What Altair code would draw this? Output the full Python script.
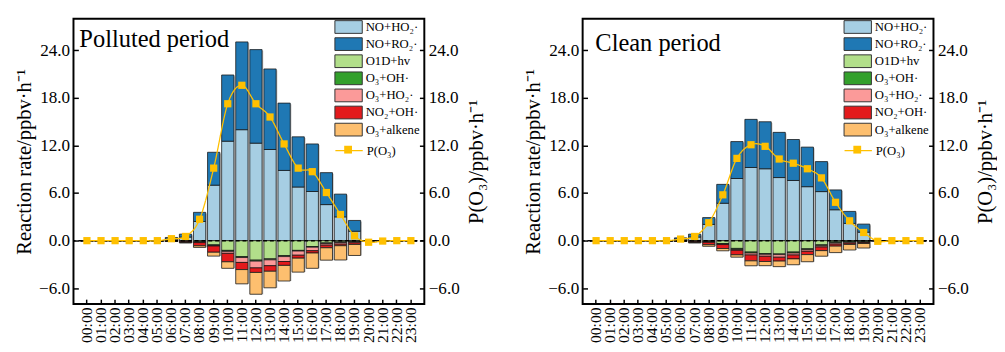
import altair as alt
import pandas as pd

FONT = "Liberation Serif"

hours = ["00:00", "01:00", "02:00", "03:00", "04:00", "05:00", "06:00", "07:00",
         "08:00", "09:00", "10:00", "11:00", "12:00", "13:00", "14:00", "15:00",
         "16:00", "17:00", "18:00", "19:00", "20:00", "21:00", "22:00", "23:00"]

species = ["NO+HO₂·", "NO+RO₂·", "O1D+hv", "O₃+OH·", "O₃+HO₂·", "NO₂+OH·", "O₃+alkene"]
line_name = "P(O₃)"
marker_name = "P(O₃) marker"
colors = ["#a6cee3", "#1f78b4", "#b2df8a", "#33a02c", "#fb9a99", "#e31a1c", "#fdbf6f"]
line_color = "#FFC000"

# ---------------- Polluted period ----------------
pol_no_ho2 = [0, 0, 0, 0, 0, 0, 0.2, 0.45, 2.42, 7.0, 12.55, 14.0, 12.3, 11.5, 8.86, 6.77, 6.2, 4.55, 3.0, 1.19, 0, 0, 0, 0]
pol_no_ro2 = [0, 0, 0, 0, 0, 0, 0.2, 0.37, 1.15, 4.15, 8.35, 11.07, 11.8, 10.16, 8.49, 6.33, 6.0, 4.03, 2.87, 1.36, 0, 0, 0, 0]
pol_o1d = [0, 0, 0, 0, 0, 0, -0.02, -0.05, -0.15, -0.53, -1.23, -2.01, -2.46, -2.3, -1.89, -1.23, -0.74, -0.29, -0.16, -0.08, 0, 0, 0, 0]
pol_o3_oh = [0, 0, 0, 0, 0, 0, -0.01, -0.05, -0.05, -0.1, -0.12, -0.12, -0.12, -0.12, -0.12, -0.08, -0.08, -0.08, -0.08, -0.08, 0, 0, 0, 0]
pol_o3_ho2 = [0, 0, 0, 0, 0, 0, -0.01, -0.02, -0.05, -0.05, -0.25, -0.62, -0.86, -0.74, -0.62, -0.53, -0.45, -0.2, -0.2, -0.12, 0, 0, 0, 0]
pol_no2_oh = [0, 0, 0, 0, 0, 0, -0.05, -0.12, -0.4, -0.78, -1.07, -0.9, -0.57, -0.7, -0.49, -0.37, -0.29, -0.33, -0.2, -0.2, 0, 0, 0, 0]
pol_alkene = [0, 0, 0, 0, 0, 0, -0.02, -0.05, -0.2, -0.49, -0.82, -1.8, -2.75, -2.09, -1.97, -1.76, -1.93, -1.56, -1.8, -1.39, 0, 0, 0, 0]
pol_po3 = [0, 0, 0, 0, 0, 0, 0.25, 0.53, 2.7, 9.15, 17.27, 19.6, 17.27, 15.6, 12.2, 9.15, 8.7, 6.07, 3.3, 0.6, -0.2, -0.05, 0, 0]

# ---------------- Clean period ----------------
cln_no_ho2 = [0, 0, 0, 0, 0, 0, 0.2, 0.45, 2.05, 4.72, 7.84, 9.23, 9.07, 7.96, 7.59, 6.81, 6.19, 3.9, 2.18, 1.07, 0, 0, 0, 0]
cln_no_ro2 = [0, 0, 0, 0, 0, 0, 0.15, 0.37, 0.86, 2.38, 4.66, 6.07, 5.93, 5.7, 5.17, 4.99, 3.78, 2.5, 1.51, 1.02, 0, 0, 0, 0]
cln_o1d = [0, 0, 0, 0, 0, 0, -0.02, -0.05, -0.08, -0.37, -0.98, -1.44, -1.64, -1.68, -1.44, -1.03, -0.53, -0.16, -0.08, -0.04, 0, 0, 0, 0]
cln_o3_oh = [0, 0, 0, 0, 0, 0, -0.01, -0.05, -0.08, -0.08, -0.16, -0.12, -0.08, -0.08, -0.12, -0.12, -0.12, -0.12, -0.12, -0.12, 0, 0, 0, 0]
cln_o3_ho2 = [0, 0, 0, 0, 0, 0, -0.01, -0.02, -0.05, -0.04, -0.08, -0.25, -0.25, -0.33, -0.25, -0.2, -0.16, -0.16, -0.12, -0.08, 0, 0, 0, 0]
cln_no2_oh = [0, 0, 0, 0, 0, 0, -0.04, -0.12, -0.3, -0.5, -0.57, -0.74, -0.66, -0.49, -0.49, -0.41, -0.45, -0.25, -0.16, -0.12, 0, 0, 0, 0]
cln_alkene = [0, 0, 0, 0, 0, 0, -0.01, -0.05, -0.2, -0.29, -0.29, -0.62, -0.53, -0.7, -0.74, -0.9, -0.7, -0.82, -0.7, -0.57, 0, 0, 0, 0]
cln_po3 = [0, 0, 0, 0, 0, 0, 0.2, 0.53, 2.26, 5.78, 10.38, 12.1, 11.9, 10.3, 9.77, 9.07, 7.92, 4.84, 2.5, 1.03, -0.08, 0, 0, 0]

panel_titles = ["Polluted period", "Clean period"]
y_ticks = [-6, 0, 6, 12, 18, 24]
y_domain = [-8, 28]

# legend / marker symbol paths (unit = half of sqrt(symbolSize))
RECT = "M-2,-0.93L2,-0.93L2,0.93L-2,0.93Z"
HLINE = "M-2,0L2,0"
SQ = "M-0.57,-0.57L0.57,-0.57L0.57,0.57L-0.57,0.57Z"

W, H = 359, 292
LAB = 17.5
TIT = 21
LEG_X = 274


def panel(series_lists, po3, title, tx, ty):
    rows = []
    for k, (name, vals) in enumerate(zip(species, series_lists)):
        for h, v in zip(hours, vals):
            rows.append({"hour": h, "series": name, "value": v, "idx": k})
    bars_df = pd.DataFrame(rows)
    pos = [sum(v for v in col if v > 0) for col in zip(*series_lists)]
    neg = [sum(v for v in col if v < 0) for col in zip(*series_lists)]
    shadow_df = pd.DataFrame({"hour": hours, "pos": pos, "neg": neg})
    shadow_df = shadow_df[(shadow_df["pos"] != 0) | (shadow_df["neg"] != 0)]
    line_df = pd.DataFrame({"hour": hours, "value": po3,
                            "lname": [line_name] * len(hours),
                            "pname": [marker_name] * len(hours)})

    xscale = alt.Scale(domain=hours, paddingInner=0.13, paddingOuter=0.52)
    yscale = alt.Scale(domain=y_domain, nice=False, zero=False)
    cscale = alt.Scale(domain=species, range=colors)

    bar_legend = alt.Legend(
        title=None, orient="none", legendX=LEG_X, legendY=1, padding=0,
        symbolType=RECT, symbolSize=196, symbolStrokeWidth=1,
        symbolStrokeColor="#333333", symbolOpacity=1,
        labelFont=FONT, labelFontSize=13, labelColor="black",
        rowPadding=-1.5, labelOffset=10,
    )
    line_legend = alt.Legend(
        title=None, orient="none", legendX=LEG_X, legendY=127, padding=0,
        symbolType=HLINE, symbolSize=196, symbolStrokeWidth=1.3,
        symbolStrokeColor=line_color, symbolOpacity=1,
        labelFont=FONT, labelFontSize=13, labelColor="black", labelOffset=10,
    )
    point_legend = alt.Legend(
        title=None, orient="none", legendX=LEG_X, legendY=127, padding=0,
        symbolSize=196, symbolFillColor=line_color, symbolStrokeColor=line_color,
        symbolStrokeWidth=0, symbolOpacity=1,
        labelExpr="''", labelFontSize=13, labelOffset=10,
    )

    xaxis = alt.Axis(title=None, labelAngle=-90, labelFont=FONT, labelFontSize=16,
                     labelColor="black", tickSize=5, tickWidth=1.5, tickColor="black",
                     domain=False, offset=-5, labelPadding=3, grid=False)
    ylaxis = alt.Axis(values=y_ticks, format=".1f", title="Reaction rate/ppbv·h⁻¹",
                      orient="left", labelFont=FONT, labelFontSize=LAB, labelColor="black",
                      tickSize=5, tickWidth=1.5, tickColor="black", domain=False,
                      offset=-5, labelPadding=4, grid=False, titleFont=FONT,
                      titleFontSize=TIT, titleFontWeight="normal", titleColor="black",
                      titlePadding=4)
    yraxis = alt.Axis(values=y_ticks, format=".1f", title="P(O₃)/ppbv·h⁻¹",
                      orient="right", labelFont=FONT, labelFontSize=LAB, labelColor="black",
                      tickSize=5, tickWidth=1.5, tickColor="black", domain=False,
                      offset=-5, labelPadding=4, grid=False, titleFont=FONT,
                      titleFontSize=TIT, titleFontWeight="normal", titleColor="black",
                      titlePadding=28, titleAngle=270)

    shadow = alt.Chart(shadow_df).mark_bar(color="#8a8a8a", opacity=0.55, xOffset=1.2, yOffset=1.2).encode(
        x=alt.X("hour:N", scale=xscale, axis=xaxis, sort=hours),
        y=alt.Y("pos:Q", scale=yscale, axis=None),
        y2="neg:Q",
    )
    bars = alt.Chart(bars_df).mark_bar(stroke="#1a1a1a", strokeWidth=0.8).encode(
        x=alt.X("hour:N", scale=xscale, sort=hours),
        y=alt.Y("value:Q", scale=yscale, axis=ylaxis, stack="zero"),
        color=alt.Color("series:N", scale=cscale, legend=bar_legend),
        order=alt.Order("idx:Q", sort="ascending"),
    )
    zero = alt.Chart(pd.DataFrame({"y": [0]})).mark_rule(
        color="black", strokeDash=[4, 3], strokeWidth=1.5).encode(
        y=alt.Y("y:Q", scale=yscale, axis=None))
    line = alt.Chart(line_df).mark_line(
        color=line_color, strokeWidth=1.3, interpolate="cardinal").encode(
        x=alt.X("hour:N", scale=xscale, sort=hours),
        y=alt.Y("value:Q", scale=yscale, axis=yraxis),
        strokeDash=alt.StrokeDash("lname:N", scale=alt.Scale(domain=[line_name], range=[[1, 0]]),
                                  legend=line_legend),
    )
    points = alt.Chart(line_df).mark_point(
        filled=True, size=169, opacity=1, color=line_color).encode(
        x=alt.X("hour:N", scale=xscale, sort=hours),
        y=alt.Y("value:Q", scale=yscale, axis=None),
        shape=alt.Shape("pname:N", scale=alt.Scale(domain=[marker_name], range=[SQ]),
                        legend=point_legend),
    )
    text = alt.Chart(pd.DataFrame({"t": [title]})).mark_text(
        align="left", baseline="alphabetic", font=FONT, fontSize=25, color="black").encode(
        x=alt.value(tx), y=alt.value(ty), text="t:N")

    return alt.layer(shadow, bars, zero, line, points, text).resolve_scale(y="independent").properties(width=W, height=H)


left = panel([pol_no_ho2, pol_no_ro2, pol_o1d, pol_o3_oh, pol_o3_ho2, pol_no2_oh, pol_alkene],
             pol_po3, panel_titles[0], 6, 29)
right = panel([cln_no_ho2, cln_no_ro2, cln_o1d, cln_o3_oh, cln_o3_ho2, cln_no2_oh, cln_alkene],
              cln_po3, panel_titles[1], 13, 33)

chart = alt.hconcat(left, right, spacing=35).resolve_scale(
    color="independent", strokeDash="independent", shape="independent").resolve_legend(
    color="independent", strokeDash="independent", shape="independent").properties(
    padding={"left": 5, "top": 6, "right": 0, "bottom": 0}).configure_view(
    stroke="black", strokeWidth=2).configure_axis(titleFontWeight="normal")

chart.save("out.html", embed_options={"renderer": "svg", "actions": False})
